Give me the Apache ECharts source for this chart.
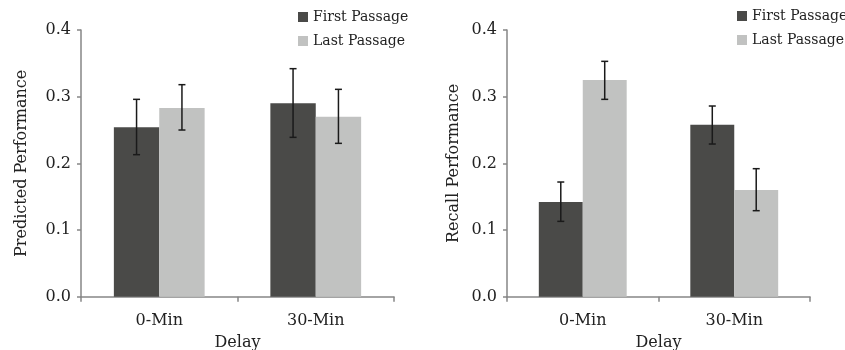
<!DOCTYPE html>
<html>
<head>
<meta charset="utf-8">
<script src="https://cdn.jsdelivr.net/npm/echarts@6/dist/echarts.min.js"></script>
<style>
  html, body { margin: 0; padding: 0; background: #fff; }
  #chart { width: 845px; height: 350px; }
</style>
</head>
<body>
<div id="chart"></div>
<script>
// data
const categories = ["0-Min", "30-Min"];
const seriesNames = ["First Passage", "Last Passage"];
const yTicks = [0, 0.1, 0.2, 0.3, 0.4];

// left panel: predicted performance
const predFirst = [0.254, 0.290];
const predLast = [0.283, 0.270];
const predFirstErr = [[0.213, 0.296], [0.239, 0.342]];
const predLastErr = [[0.250, 0.318], [0.230, 0.311]];

// right panel: recall performance
const recFirst = [0.142, 0.258];
const recLast = [0.325, 0.160];
const recFirstErr = [[0.113, 0.172], [0.229, 0.286]];
const recLastErr = [[0.296, 0.353], [0.129, 0.192]];

const DARK = "#4a4a48";
const LIGHT = "#c1c2c1";
const AXIS = "#868686";
const FONT = "DejaVu Serif";
const catGap = 0.42;

let chart = echarts.init(document.getElementById("chart"));

function errBar(sign) {
  return function (params, api) {
    const xi = api.value(0);
    const lo = api.coord([xi, api.value(1)]);
    const hi = api.coord([xi, api.value(2)]);
    const band = api.size([1, 0])[0];
    const x = lo[0] + sign * band * (1 - catGap) / 4;
    const w = 3.5;
    const style = { stroke: "#1a1a1a", lineWidth: 1.5 };
    return {
      type: "group",
      children: [
        { type: "line", shape: { x1: x, y1: lo[1], x2: x, y2: hi[1] }, style: style },
        { type: "line", shape: { x1: x - w, y1: lo[1], x2: x + w, y2: lo[1] }, style: style },
        { type: "line", shape: { x1: x - w, y1: hi[1], x2: x + w, y2: hi[1] }, style: style },
      ],
    };
  };
}

function errData(arr) {
  return arr.map((v, i) => [i, v[0], v[1]]);
}

function xAxisOf(idx) {
  return {
    type: "category",
    gridIndex: idx,
    data: categories,
    name: "Delay",
    nameLocation: "middle",
    nameGap: 38,
    nameTextStyle: { fontFamily: FONT, fontSize: 16, color: "#222" },
    axisLine: { lineStyle: { color: AXIS, width: 1.5 } },
    axisTick: { show: true, length: 5, lineStyle: { color: AXIS, width: 1.5 } },
    axisLabel: { fontFamily: FONT, fontSize: 16, color: "#222", margin: 16 },
    splitLine: { show: false },
  };
}

function yAxisOf(idx, name, gap) {
  return {
    type: "value",
    gridIndex: idx,
    min: 0,
    max: 0.4,
    interval: 0.1,
    name: name,
    nameLocation: "middle",
    nameGap: gap,
    nameTextStyle: { fontFamily: FONT, fontSize: 16, color: "#222" },
    axisLine: { show: true, lineStyle: { color: AXIS, width: 1.5 } },
    axisTick: { show: true, length: 4, lineStyle: { color: AXIS, width: 1.5 } },
    axisLabel: {
      fontFamily: FONT,
      fontSize: 16,
      color: "#222",
      margin: 10,
      formatter: (v) => (yTicks.includes(Math.round(v * 10) / 10) ? v.toFixed(1) : ""),
    },
    splitLine: { show: false },
  };
}

function barSeries(name, data, color, idx) {
  return {
    name: name,
    type: "bar",
    xAxisIndex: idx,
    yAxisIndex: idx,
    data: data,
    barGap: "0%",
    barCategoryGap: catGap * 100 + "%",
    itemStyle: { color: color },
    emphasis: { disabled: true },
  };
}

function errSeries(name, arr, sign, idx) {
  return {
    name: name,
    type: "custom",
    xAxisIndex: idx,
    yAxisIndex: idx,
    data: errData(arr),
    renderItem: errBar(sign),
    z: 5,
    silent: true,
  };
}

const legendBase = {
  orient: "vertical",
  icon: "rect",
  itemWidth: 10,
  itemHeight: 10,
  itemGap: 10,
  textStyle: { fontFamily: FONT, fontSize: 14, color: "#222" },
  data: seriesNames,
};

const options = {
  animation: false,
  grid: [
    { left: 81, right: 451, top: 30, bottom: 53.3, containLabel: false, outerBoundsMode: "none" },
    { left: 507, right: 35, top: 30, bottom: 53.3, containLabel: false, outerBoundsMode: "none" },
  ],
  legend: [
    Object.assign({ left: 293, top: 5 }, legendBase),
    Object.assign({ left: 732, top: 4 }, legendBase),
  ],
  xAxis: [xAxisOf(0), xAxisOf(1)],
  yAxis: [yAxisOf(0, "Predicted Performance", 51), yAxisOf(1, "Recall Performance", 45)],
  series: [
    barSeries(seriesNames[0], predFirst, DARK, 0),
    barSeries(seriesNames[1], predLast, LIGHT, 0),
    barSeries(seriesNames[0], recFirst, DARK, 1),
    barSeries(seriesNames[1], recLast, LIGHT, 1),
    errSeries("err1", predFirstErr, -1, 0),
    errSeries("err2", predLastErr, 1, 0),
    errSeries("err3", recFirstErr, -1, 1),
    errSeries("err4", recLastErr, 1, 1),
  ],
};

chart.setOption(options);
</script>
</body>
</html>
